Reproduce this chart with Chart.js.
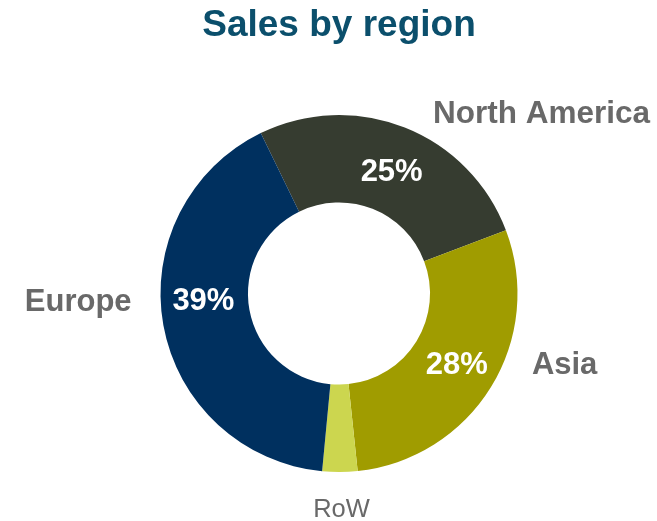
<!DOCTYPE html>
<html>
<head>
<meta charset="utf-8">
<title>Sales by region</title>
<script src="https://cdn.jsdelivr.net/npm/chart.js@4"></script>
<style>
  html, body { margin: 0; padding: 0; background: #ffffff; }
  #wrap { width: 657px; height: 521px; }
</style>
</head>
<body>
<div id="wrap"><canvas id="salesChart" width="657" height="521"></canvas></div>
<script>
// data
const regions = ["North America", "Asia", "RoW", "Europe"];
const sales = [25, 27.5, 3, 39];
const showPercent = [true, true, false, true];

const colors = ["#363c30", "#a09c00", "#ccd64f", "#00305f"];

// where the region names sit, relative to the ring (x, y as multiples of outer radius)
const namePos = [[1.135, -1.005], [1.264, 0.405], [0.014, 1.212], [-1.461, 0.05]];
const nameFonts = ["bold 31.5px 'Liberation Sans', Arial", "bold 31px 'Liberation Sans', Arial",
  "25.5px 'Liberation Sans', Arial", "bold 31px 'Liberation Sans', Arial"];
// small nudges of the percent labels (px)
const pctNudge = [[3, 4], [3, 1.5], [0, 0], [-3, -16]];

//Labels drawn on and around the ring
const ringLabels = {
  id: "ringLabels",
  afterDatasetsDraw(chart) {
    const ctx = chart.ctx;
    const arcs = chart.getDatasetMeta(0).data;
    ctx.save();
    ctx.textAlign = "center";
    ctx.textBaseline = "middle";
    arcs.forEach((arc, i) => {
      if (showPercent[i]) {
        const p = arc.tooltipPosition();
        ctx.fillStyle = "#ffffff";
        ctx.font = "bold 31px 'Liberation Sans', Arial";
        ctx.fillText(Math.round(sales[i]) + "%", p.x + pctNudge[i][0], p.y + pctNudge[i][1]);
      }
      ctx.fillStyle = "#696969";
      ctx.font = nameFonts[i];
      ctx.fillText(regions[i], arc.x + namePos[i][0] * arc.outerRadius, arc.y + namePos[i][1] * arc.outerRadius);
    });
    ctx.restore();
  }
};

new Chart(document.getElementById("salesChart"), {
  type: "doughnut",
  data: {
    labels: regions,
    datasets: [{
      data: sales,
      backgroundColor: colors,
      borderWidth: 0
    }]
  },
  options: {
    responsive: false,
    animation: false,
    rotation: -26,
    cutout: "51%",
    layout: {
      padding: { left: 21, right: 0, top: 0, bottom: 49 }
    },
    plugins: {
      legend: { display: false },
      tooltip: { enabled: false },
      title: {
        display: true,
        text: "Sales by region",
        color: "#0b4f6c",
        font: { family: "'Liberation Sans', Arial", size: 37, weight: "bold", lineHeight: 1.2 },
        padding: { top: 4, bottom: 66.6 }
      }
    }
  },
  plugins: [ringLabels]
});
</script>
</body>
</html>
